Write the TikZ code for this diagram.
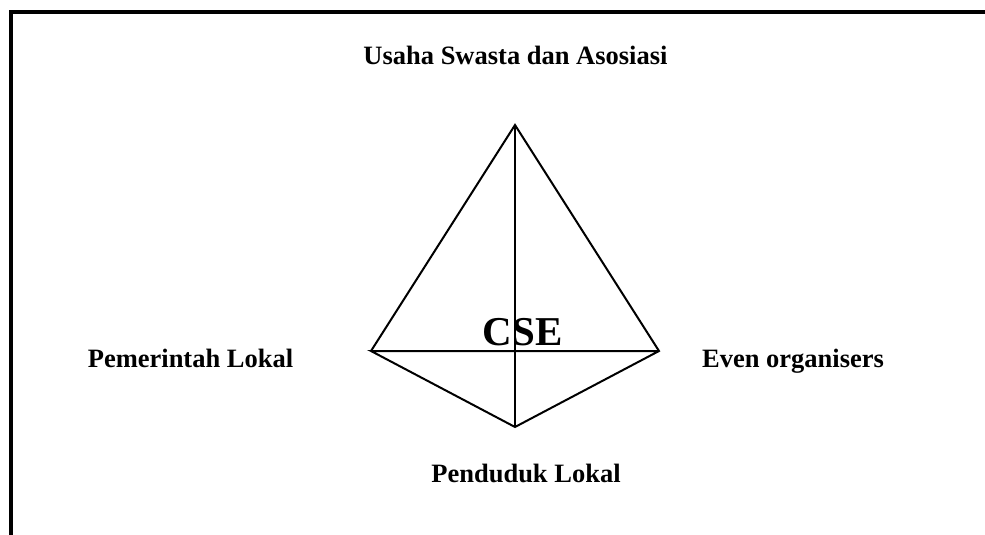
\documentclass[tikz,border=0pt]{standalone}
\usepackage{fontspec}
\setmainfont{Liberation Serif}
\begin{document}
\begin{tikzpicture}[x=1pt,y=-1pt,
  lbl/.style={font=\fontsize{26.5}{30}\selectfont\bfseries, anchor=base, inner sep=0pt},
  big/.style={font=\fontsize{41}{45}\selectfont\bfseries, anchor=base, inner sep=0pt},
  edge/.style={line width=2pt, line join=miter},
  frame/.style={line width=4pt}]
\useasboundingbox (0,0) rectangle (985,535);
% frame (open at right and bottom)
\coordinate (fa) at (11,535);
\coordinate (fb) at (11,12);
\coordinate (fc) at (985,12);
\draw[frame] (fa) -- (fb) -- (fc);
% vertices
\coordinate (top) at (515,125);
\coordinate (left) at (371,351);
\coordinate (right) at (659,351);
\coordinate (bot) at (515,427);
\draw[edge] (left) -- (top) -- (right) -- (bot) -- (left) -- (right);
\draw[edge] (top) -- (bot);
% labels
\node[lbl] (usaha) at (515.5,65) {Usaha Swasta dan Asosiasi};
\node[lbl] (pem) at (190.5,367) {Pemerintah Lokal};
\node[lbl] (even) at (793,367) {Even organisers};
\node[lbl] (pend) at (526,482) {Penduduk Lokal};
\node[big] (cse) at (522.5,345) {CSE};
\end{tikzpicture}
\end{document}
